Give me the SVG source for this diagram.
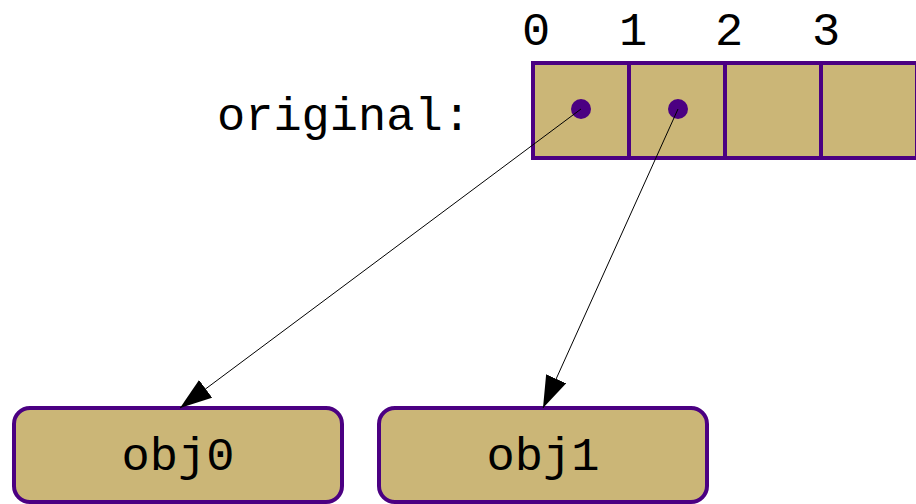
<svg xmlns="http://www.w3.org/2000/svg" width="916" height="504" viewBox="0 0 916 504">
<style>
.cell{fill:#cbb677;stroke:#4b0082;stroke-width:4}
.node{fill:#cbb677;stroke:#4b0082;stroke-width:4}
.t{font-family:"Liberation Mono","DejaVu Sans Mono",monospace;font-size:47px;fill:#000}
.conn{stroke:#000;stroke-width:1;fill:none;marker-end:url(#ah)}
.dot{fill:#4b0082}
</style>
<defs>
<marker id="ah" markerUnits="userSpaceOnUse" markerWidth="34" markerHeight="24" refX="32" refY="11" orient="auto" viewBox="0 0 34 24">
<polygon points="0,0 32,11 0,22" fill="#000"/>
</marker>
</defs>
<rect width="916" height="504" fill="#fff"/>
<g id="label-original"><text class="t" x="217" y="130">original:</text></g>
<g id="array">
<rect class="cell" x="533" y="63" width="96" height="95"/>
<rect class="cell" x="629" y="63" width="96" height="95"/>
<rect class="cell" x="725" y="63" width="96" height="95"/>
<rect class="cell" x="821" y="63" width="96" height="95"/>
<text class="t" x="536" y="45" text-anchor="middle">0</text>
<text class="t" x="633" y="45" text-anchor="middle">1</text>
<text class="t" x="729" y="45" text-anchor="middle">2</text>
<text class="t" x="826" y="45" text-anchor="middle">3</text>
<circle class="dot" cx="581" cy="109" r="10"/>
<circle class="dot" cx="678" cy="109" r="10"/>
</g>
<g id="obj0"><rect class="node" x="14" y="408" width="328" height="94" rx="16"/><text class="t" x="178" y="470" text-anchor="middle">obj0</text></g>
<g id="obj1"><rect class="node" x="379" y="408" width="328" height="94" rx="16"/><text class="t" x="543" y="470" text-anchor="middle">obj1</text></g>
<g id="connectors">
<line class="conn" x1="581" y1="109" x2="180" y2="408"/>
<line class="conn" x1="678" y1="109" x2="543" y2="408"/>
</g>
</svg>
